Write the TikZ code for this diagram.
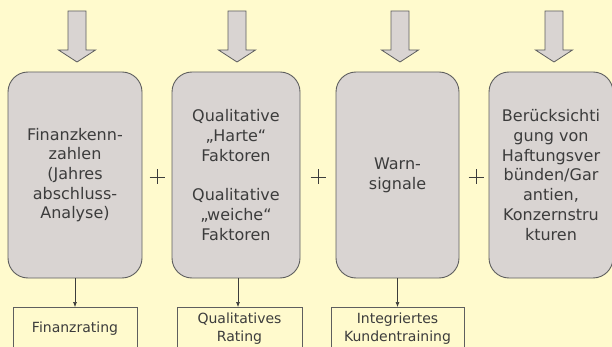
\documentclass[tikz,border=0pt]{standalone}
\usepackage{fontspec}
\setmainfont{DejaVu Sans}
\usetikzlibrary{arrows.meta}
\definecolor{bg}{HTML}{FFFACD}
\definecolor{boxfill}{HTML}{D9D4D2}
\definecolor{edge}{HTML}{5E5E5E}
\definecolor{txt}{HTML}{3C3C3C}
\tikzset{
  mainbox/.style={draw=edge, line width=0.9pt, fill=boxfill, rounded corners=20pt,
    minimum height=206pt, inner sep=0pt, align=center, text=txt,
    font=\fontsize{16}{19.7}\selectfont},
  resultbox/.style={draw=edge, line width=0.9pt, fill=bg, minimum height=42pt,
    inner sep=0pt, anchor=north, align=center, text=txt,
    font=\fontsize{14}{18}\selectfont},
  blockarrow/.style={draw=edge, line width=0.8pt, fill=boxfill, line join=miter},
  link/.style={draw=txt, line width=0.6pt, -{Latex[length=5pt,width=4pt]}},
  plussign/.style={draw=txt, line width=0.7pt}
}
\begin{document}
\begin{tikzpicture}[x=1pt,y=-1pt]
\fill[bg] (0,0) rectangle (612,347);
\useasboundingbox (0,0) rectangle (612,347);
\clip (0,0) rectangle (612,347);

% block arrows
\foreach \c in {77,237,400,554}{
  \draw[blockarrow] (\c-9,11) -- (\c+9,11) -- (\c+9,50) -- (\c+18.5,50) -- (\c,62)
    -- (\c-18.5,50) -- (\c-9,50) -- cycle;
}

% main boxes
\node[mainbox, minimum width=134pt] (b1) at (75,175)
  {Finanzkenn-\\zahlen\\(Jahres\\abschluss-\\Analyse)};
\node[mainbox, minimum width=128pt] (b2) at (236,175)
  {Qualitative\\„Harte“\\Faktoren\\[19.7pt]Qualitative\\„weiche“\\Faktoren};
\node[mainbox, minimum width=123pt] (b3) at (397.5,175)
  {Warn-\\signale};
\node[mainbox, minimum width=124pt] (b4) at (551,175)
  {Berücksichti\\gung von\\Haftungsver\\bünden/Gar\\antien,\\Konzernstru\\kturen};

% plus signs
\foreach \x in {157,318,476}{
  \draw[plussign] (\x-7.5,177) -- (\x+7.5,177);
  \draw[plussign] (\x,169.5) -- (\x,184.5);
}

% result boxes
\node[resultbox, minimum width=124pt] (r1) at (75,307) {Finanzrating};
\node[resultbox, minimum width=125pt] (r2) at (239.5,307) {Qualitatives\\Rating};
\node[resultbox, minimum width=133pt] (r3) at (397.5,307) {Integriertes\\Kundentraining};

% connectors
\draw[link] (b1.south) -- (b1.south |- r1.north);
\draw[link] ([xshift=2pt]b2.south) -- ([xshift=2pt]b2.south |- r2.north);
\draw[link] (b3.south) -- (b3.south |- r3.north);
\end{tikzpicture}
\end{document}
